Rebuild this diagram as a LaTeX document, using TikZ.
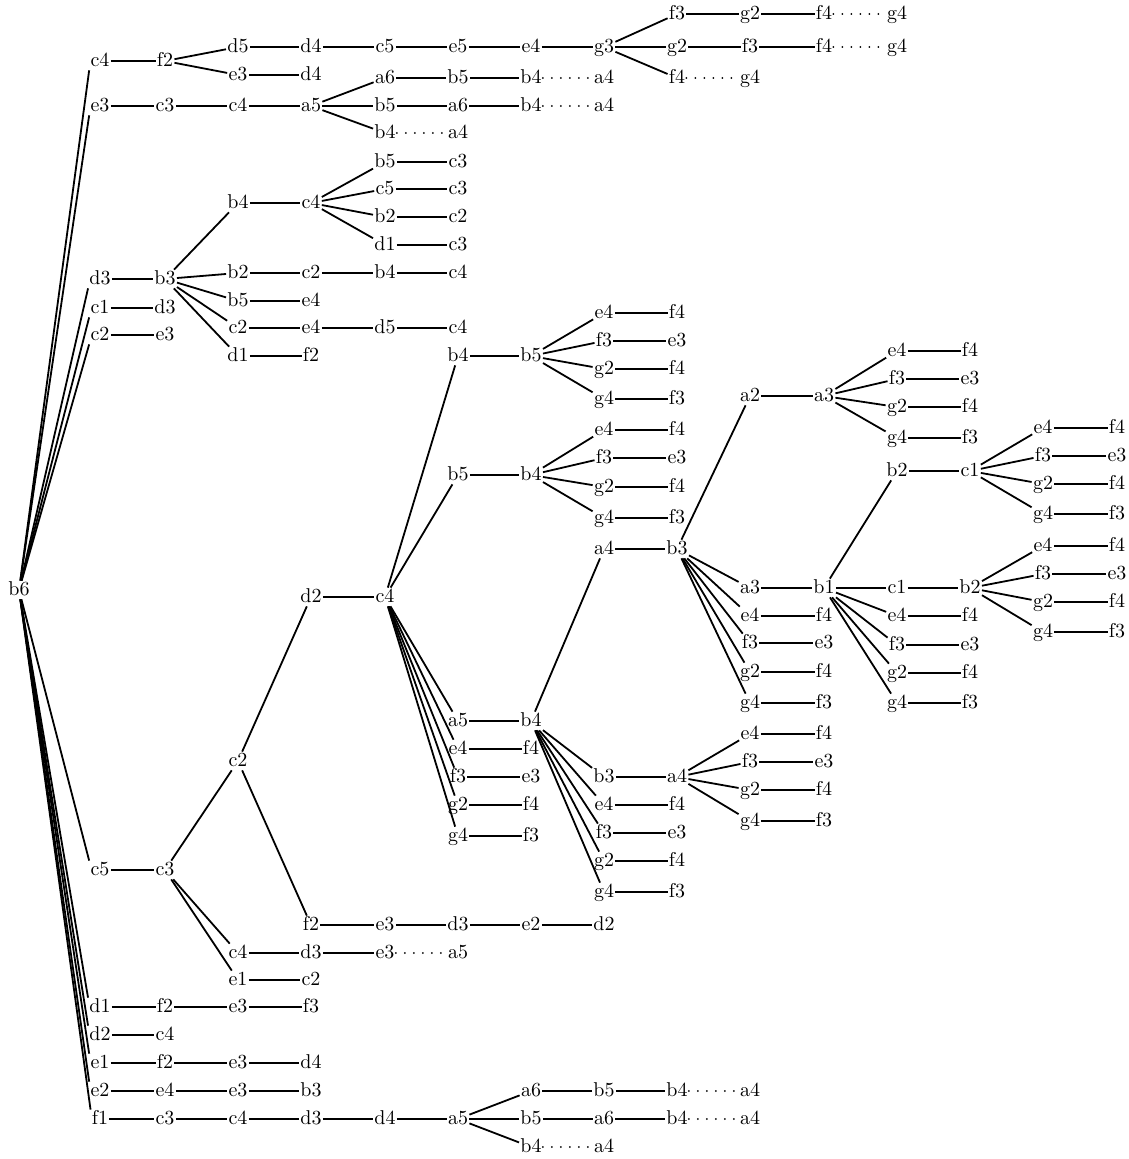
\documentclass[tikz,border=0pt]{standalone}
\usepackage{tikz}

\begin{document}
\begin{tikzpicture}[x=0.5pt,y=-0.5pt,
    mv/.style={inner sep=0.5pt,text height=1.6ex,text depth=.25ex},
    ln/.style={line width=.9pt},
    dotln/.style={line width=1pt,line cap=round,dash pattern=on 0pt off 4.5pt}]
  \useasboundingbox (0,0) rectangle (1128,1159);
  \def\colx{{19,100,165,238,311,385,458,531,604,677,750,824,897,970,1043,1117}}
  % each row: first column / y / moves, joined left to right
  \foreach \c/\y/\lst in {%
    0/590/{b6},
    1/61/{c4,f2},
    3/47/{d5,d4,c5,e5,e4,g3,g2,f3,f4},
    3/75/{e3,d4},
    9/14/{f3,g2,f4},
    9/78/{f4},
    1/106/{e3,c3,c4,a5,b5,a6,b4},
    5/78/{a6,b5,b4},
    5/133/{b4},
    1/279/{d3,b3},
    3/203/{b4,c4},
    5/162/{b5,c3},
    5/189/{c5,c3},
    5/217/{b2,c2},
    5/245/{d1,c3},
    3/273/{b2,c2,b4,c4},
    3/301/{b5,e4},
    3/328/{c2,e4,d5,c4},
    3/356/{d1,f2},
    1/308/{c1,d3},
    1/335/{c2,e3},
    1/870/{c5,c3},
    3/761/{c2},
    4/597/{d2,c4},
    6/356/{b4,b5},
    8/313/{e4,f4},
    8/341/{f3,e3},
    8/369/{g2,f4},
    8/399/{g4,f3},
    6/475/{b5,b4},
    8/430/{e4,f4},
    8/458/{f3,e3},
    8/487/{g2,f4},
    8/518/{g4,f3},
    6/721/{a5,b4},
    8/549/{a4,b3},
    10/396/{a2,a3},
    12/351/{e4,f4},
    12/379/{f3,e3},
    12/407/{g2,f4},
    12/438/{g4,f3},
    10/588/{a3,b1,c1,b2},
    12/471/{b2,c1},
    14/428/{e4,f4},
    14/456/{f3,e3},
    14/484/{g2,f4},
    14/514/{g4,f3},
    14/546/{e4,f4},
    14/574/{f3,e3},
    14/602/{g2,f4},
    14/632/{g4,f3},
    12/616/{e4,f4},
    12/645/{f3,e3},
    12/673/{g2,f4},
    12/703/{g4,f3},
    10/616/{e4,f4},
    10/643/{f3,e3},
    10/672/{g2,f4},
    10/703/{g4,f3},
    8/777/{b3,a4},
    10/734/{e4,f4},
    10/762/{f3,e3},
    10/790/{g2,f4},
    10/821/{g4,f3},
    8/805/{e4,f4},
    8/833/{f3,e3},
    8/861/{g2,f4},
    8/892/{g4,f3},
    6/749/{e4,f4},
    6/777/{f3,e3},
    6/805/{g2,f4},
    6/836/{g4,f3},
    4/925/{f2,e3,d3,e2,d2},
    3/953/{c4,d3,e3},
    3/980/{e1,c2},
    1/1007/{d1,f2,e3,f3},
    1/1035/{d2,c4},
    1/1063/{e1,f2,e3,d4},
    1/1091/{e2,e4,e3,b3},
    1/1119/{f1,c3,c4,d3,d4,a5,b5,a6,b4},
    7/1091/{a6,b5,b4},
    7/1147/{b4}}{%
      \foreach \t [count=\i from 0] in \lst {%
        \pgfmathtruncatemacro\k{\c+\i}
        \pgfmathtruncatemacro\kp{\k-1}
        \pgfmathsetmacro\xx{\colx[\k]}
        \node[mv] (n\k-\y) at (\xx,\y) {\t};
        \ifnum\i>0 \draw[ln] (n\kp-\y) -- (n\k-\y); \fi
      }
    }
  % dotted ends
  \foreach \c/\y/\t in {12/14/g4,12/47/g4,10/78/g4,8/78/a4,8/106/a4,
    6/133/a4,6/953/a5,10/1091/a4,10/1119/a4,8/1147/a4}{%
      \pgfmathtruncatemacro\kp{\c-1}
      \pgfmathsetmacro\xx{\colx[\c]}
      \node[mv] (n\c-\y) at (\xx,\y) {\t};
      \draw[dotln] (n\kp-\y) -- (n\c-\y);
    }
  % root: lines meet the left corners of its moves
  \foreach \q in {61,106,279,308,335}
    \draw[ln] (n0-590) -- (n1-\q.south west);
  \foreach \q in {870,1007,1035,1063,1091,1119}
    \draw[ln] (n0-590) -- (n1-\q.north west);
  % branchings
  \foreach \p/\q in {%
    2-61/3-47,2-61/3-75,
    8-47/9-14,8-47/9-78,
    4-106/5-78,4-106/5-133,
    2-279/3-203,2-279/3-273,2-279/3-301,2-279/3-328,2-279/3-356,
    4-203/5-162,4-203/5-189,4-203/5-217,4-203/5-245,
    2-870/3-761,2-870/3-953,2-870/3-980,
    3-761/4-597,3-761/4-925,
    5-597/6-356,5-597/6-475,5-597/6-721,5-597/6-749,5-597/6-777,5-597/6-805,5-597/6-836,
    7-356/8-313,7-356/8-341,7-356/8-369,7-356/8-399,
    7-475/8-430,7-475/8-458,7-475/8-487,7-475/8-518,
    7-721/8-549,7-721/8-777,7-721/8-805,7-721/8-833,7-721/8-861,7-721/8-892,
    9-549/10-396,9-549/10-588,9-549/10-616,9-549/10-643,9-549/10-672,9-549/10-703,
    11-396/12-351,11-396/12-379,11-396/12-407,11-396/12-438,
    11-588/12-471,11-588/12-616,11-588/12-645,11-588/12-673,11-588/12-703,
    13-471/14-428,13-471/14-456,13-471/14-484,13-471/14-514,
    13-588/14-546,13-588/14-574,13-588/14-602,13-588/14-632,
    9-777/10-734,9-777/10-762,9-777/10-790,9-777/10-821,
    6-1119/7-1091,6-1119/7-1147}
    \draw[ln] (n\p) -- (n\q);
\end{tikzpicture}
\end{document}
